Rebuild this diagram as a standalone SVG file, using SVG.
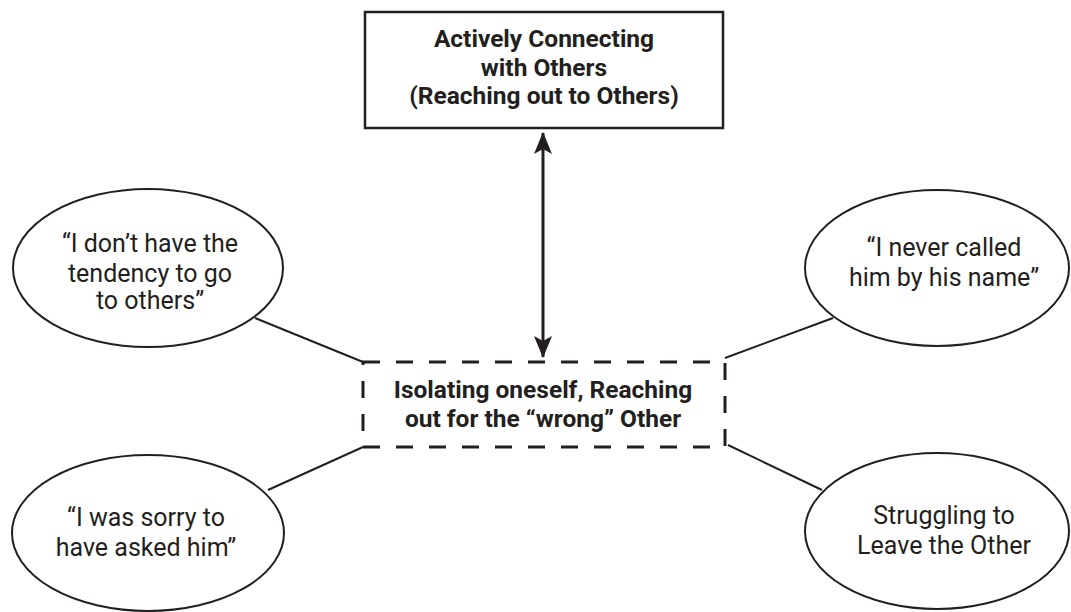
<svg xmlns="http://www.w3.org/2000/svg" width="1071" height="612" viewBox="0 0 1071 612">
<style>
.t{font-family:Roboto,"Liberation Sans",sans-serif;font-size:25px;fill:#231f20;text-anchor:middle}
.b{font-weight:bold;font-size:24.5px}
.e{fill:#fff;stroke:#231f20;stroke-width:2}
.c{stroke:#231f20;stroke-width:2;fill:none}
</style>
<defs>
<marker id="ah" viewBox="0 0 22 18" refX="21" refY="9" markerWidth="22" markerHeight="18" markerUnits="userSpaceOnUse" orient="auto-start-reverse">
<path d="M0,0 L22,9 L0,18 L5,9 Z" fill="#231f20"/>
</marker>
</defs>
<rect width="1071" height="612" fill="#fff"/>
<g id="connectors">
<line class="c" x1="255" y1="318" x2="363" y2="362"/>
<line class="c" x1="725" y1="358" x2="833" y2="318"/>
<line class="c" x1="268" y1="490" x2="363" y2="447"/>
<line class="c" x1="728" y1="445" x2="822" y2="490"/>
<line x1="543" y1="133" x2="543" y2="357" stroke="#231f20" stroke-width="3" marker-start="url(#ah)" marker-end="url(#ah)"/>
</g>
<g id="top">
<rect x="365" y="12" width="358" height="116" fill="#fff" stroke="#231f20" stroke-width="2.5"/>
<text class="t b" x="544" y="47">Actively Connecting</text>
<text class="t b" x="544" y="76">with Others</text>
<text class="t b" x="544" y="104">(Reaching out to Others)</text>
</g>
<g id="center">
<rect x="363" y="362" width="362" height="85" fill="#fff" stroke="#231f20" stroke-width="3" stroke-dasharray="17,16"/>
<text class="t b" x="543" y="398">Isolating oneself, Reaching</text>
<text class="t b" x="543" y="427">out for the “wrong” Other</text>
</g>
<g id="tl">
<ellipse class="e" cx="148" cy="268" rx="135" ry="79"/>
<text class="t" x="150" y="252">“I don’t have the</text>
<text class="t" x="150" y="282">tendency to go</text>
<text class="t" x="150" y="309">to others”</text>
</g>
<g id="tr">
<ellipse class="e" cx="937" cy="268" rx="132" ry="78"/>
<text class="t" x="944" y="256">“I never called</text>
<text class="t" x="944" y="286">him by his name”</text>
</g>
<g id="bl">
<ellipse class="e" cx="148" cy="533" rx="136" ry="78"/>
<text class="t" x="146" y="526">“I was sorry to</text>
<text class="t" x="146" y="556">have asked him”</text>
</g>
<g id="br">
<ellipse class="e" cx="937" cy="531" rx="132" ry="78"/>
<text class="t" x="944" y="524">Struggling to</text>
<text class="t" x="944" y="554">Leave the Other</text>
</g>
</svg>
